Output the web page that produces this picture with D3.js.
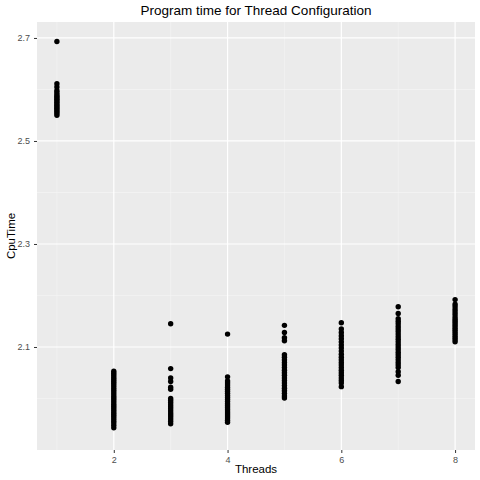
<!DOCTYPE html>
<html>
<head>
  <style>
    body { margin: 0; background: #fff; }
    text { font-family: "Liberation Sans", Arial, sans-serif; }
  </style>
</head>
<body>
  <svg id="chart" width="480" height="480"></svg>
  <script src="https://d3js.org/d3.v7.min.js"></script>
  <script>
    // CpuTime readings per thread count
    const threads = [1, 2, 3, 4, 5, 6, 7, 8]
    const cpuT1 = [2.693, 2.611, 2.605, 2.598, 2.594, 2.590, 2.587, 2.584, 2.581, 2.578, 2.575, 2.572, 2.569, 2.566, 2.563, 2.560, 2.557, 2.554, 2.550]
    const cpuT2 = [2.053, 2.049, 2.045, 2.041, 2.037, 2.033, 2.029, 2.025, 2.021, 2.017, 2.013, 2.009, 2.005, 2.001, 1.997, 1.993, 1.989, 1.985, 1.981, 1.977, 1.973, 1.969, 1.965, 1.961, 1.957, 1.953, 1.948, 1.943]
    const cpuT3 = [2.145, 2.058, 2.040, 2.033, 2.022, 2.018, 2.000, 1.996, 1.992, 1.988, 1.984, 1.980, 1.976, 1.972, 1.968, 1.964, 1.960, 1.956, 1.951]
    const cpuT4 = [2.125, 2.042, 2.034, 2.030, 2.026, 2.022, 2.018, 2.014, 2.010, 2.006, 2.002, 1.998, 1.994, 1.990, 1.986, 1.982, 1.978, 1.974, 1.970, 1.966, 1.962, 1.958, 1.954]
    const cpuT5 = [2.142, 2.128, 2.118, 2.112, 2.085, 2.080, 2.075, 2.070, 2.065, 2.060, 2.055, 2.050, 2.045, 2.040, 2.035, 2.030, 2.025, 2.020, 2.015, 2.010, 2.005, 2.001]
    const cpuT6 = [2.147, 2.135, 2.128, 2.122, 2.116, 2.110, 2.104, 2.098, 2.092, 2.086, 2.080, 2.075, 2.070, 2.065, 2.060, 2.055, 2.050, 2.045, 2.040, 2.035, 2.030, 2.023]
    const cpuT7 = [2.178, 2.165, 2.155, 2.150, 2.145, 2.140, 2.135, 2.130, 2.125, 2.120, 2.115, 2.110, 2.105, 2.100, 2.095, 2.090, 2.085, 2.080, 2.075, 2.070, 2.065, 2.060, 2.052, 2.045, 2.033]
    const cpuT8 = [2.192, 2.183, 2.178, 2.173, 2.168, 2.163, 2.158, 2.154, 2.150, 2.146, 2.142, 2.138, 2.134, 2.130, 2.126, 2.122, 2.118, 2.114, 2.110]
    const allCpu = [cpuT1, cpuT2, cpuT3, cpuT4, cpuT5, cpuT6, cpuT7, cpuT8]
    const xTicks = [2, 4, 6, 8]
    const yTicks = [2.1, 2.3, 2.5, 2.7]

    let points = []
    allCpu.forEach((vals, i) => {
      vals.forEach(v => points.push({ t: threads[i], cpu: v }))
    })

    let margin = { top: 22, right: 5, bottom: 30, left: 37 },
      width = 480 - margin.left - margin.right,
      height = 480 - margin.top - margin.bottom;

    let svg = d3.select("#chart")
    let chart = svg.append("g")
      .attr("transform", "translate(" + margin.left + "," + margin.top + ")");

    let x = d3.scaleLinear().domain([0.65, 8.35]).range([0, width])
    let y = d3.scaleLinear().domain([1.9, 2.731]).range([height, 0])

    chart.append("rect")
      .attr("width", width)
      .attr("height", height)
      .attr("fill", "#ebebeb")

    // minor grid lines
    let xMinor = [1, 3, 5, 7], yMinor = [2.0, 2.2, 2.4, 2.6]
    chart.selectAll(".xminor").data(xMinor).enter().append("line")
      .attr("x1", d => x(d)).attr("x2", d => x(d))
      .attr("y1", 0).attr("y2", height)
      .attr("stroke", "#f5f5f5").attr("stroke-width", 0.6)
    chart.selectAll(".yminor").data(yMinor).enter().append("line")
      .attr("y1", d => y(d)).attr("y2", d => y(d))
      .attr("x1", 0).attr("x2", width)
      .attr("stroke", "#f5f5f5").attr("stroke-width", 0.6)

    // major grid lines
    chart.selectAll(".xmajor").data(xTicks).enter().append("line")
      .attr("x1", d => x(d)).attr("x2", d => x(d))
      .attr("y1", 0).attr("y2", height)
      .attr("stroke", "#fff").attr("stroke-width", 1.2)
    chart.selectAll(".ymajor").data(yTicks).enter().append("line")
      .attr("y1", d => y(d)).attr("y2", d => y(d))
      .attr("x1", 0).attr("x2", width)
      .attr("stroke", "#fff").attr("stroke-width", 1.2)

    // axes
    let xAxis = chart.append("g")
      .attr("transform", "translate(0," + height + ")")
      .call(d3.axisBottom(x).tickValues(xTicks).tickFormat(d3.format("d")).tickSize(3).tickPadding(4))
    let yAxis = chart.append("g")
      .call(d3.axisLeft(y).tickValues(yTicks).tickFormat(d3.format(".1f")).tickSize(3).tickPadding(4))
    ;[xAxis, yAxis].forEach(a => {
      a.select(".domain").remove()
      a.selectAll("line").attr("stroke", "#333")
      a.selectAll("text").attr("fill", "#4d4d4d").style("font-size", "9px")
    })

    chart.selectAll("circle")
      .data(points)
      .enter()
      .append("circle")
      .attr("cx", d => x(d.t))
      .attr("cy", d => y(d.cpu))
      .attr("r", 2.7)
      .attr("fill", "#000")

    svg.append("text")
      .attr("x", margin.left + width / 2).attr("y", 15)
      .attr("text-anchor", "middle").style("font-size", "13.5px")
      .text("Program time for Thread Configuration")
    svg.append("text")
      .attr("x", margin.left + width / 2).attr("y", 473)
      .attr("text-anchor", "middle").style("font-size", "11.5px")
      .text("Threads")
    svg.append("text")
      .attr("transform", "translate(15," + (margin.top + height / 2) + ")rotate(-90)")
      .attr("text-anchor", "middle").style("font-size", "11.5px")
      .text("CpuTime")
  </script>
</body>
</html>
